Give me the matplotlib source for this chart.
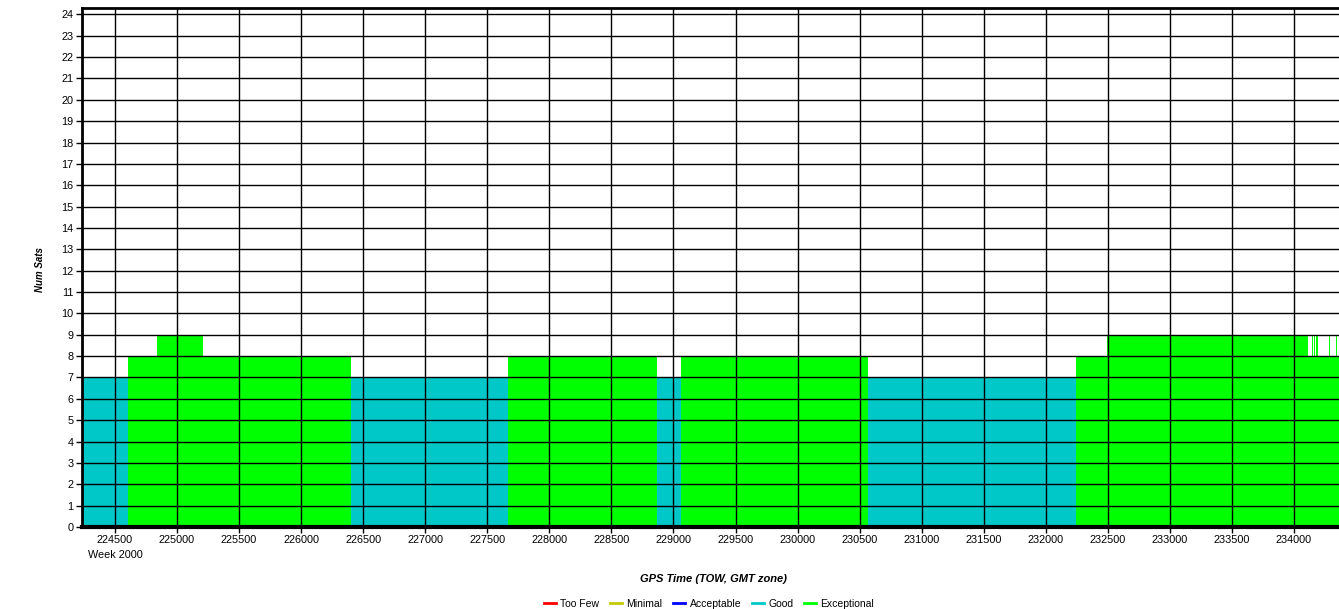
import numpy as np
import matplotlib
matplotlib.use("Agg")
import matplotlib.pyplot as plt
from matplotlib.lines import Line2D

plt.rcParams['font.family'] = ['Liberation Sans', 'DejaVu Sans']

# -----------------------------------
# Data: change points of satellite count (GPS TOW, week 2000)
# -----------------------------------
change_tow = [224234, 224605, 224836, 225211, 226402, 227667, 228870, 229063,
              230568, 232246, 232491, 234113, 234142, 234150, 234160, 234170,
              234180, 234195, 234280, 234292, 234335, 234345]
num_sats = [7, 8, 9, 8, 7, 8, 7, 8,
            7, 8, 9, 8, 9, 8, 9, 8,
            9, 8, 9, 8, 9, 8]
end_tow = 234365

x_min, x_max = 224234, 234363
x_ticks = list(range(224500, 234001, 500))
y_ticks = list(range(0, 25))

quality_names = ["Too Few", "Minimal", "Acceptable", "Good", "Exceptional"]
quality_colors = ["#ff0000", "#c8c800", "#0000ff", "#00c8c8", "#00ff00"]


def quality_of(n):
    if n <= 4:
        return "Too Few"
    if n == 5:
        return "Minimal"
    if n == 6:
        return "Acceptable"
    if n == 7:
        return "Good"
    return "Exceptional"


color_map = dict(zip(quality_names, quality_colors))

# -----------------------------------
# Plot
# -----------------------------------
fig = plt.figure(figsize=(13.39, 6.09), dpi=100)
ax = fig.add_axes([82 / 1339, 1 - 527 / 609, 1 - 82 / 1339, (527 - 8) / 609])

starts = np.array(change_tow)
widths = np.diff(np.append(starts, end_tow))
colors = [color_map[quality_of(n)] for n in num_sats]
ax.bar(starts, num_sats, width=widths, align='edge', color=colors,
       linewidth=0, zorder=1)

ax.set_xlim(x_min, x_max)
ax.set_ylim(0, 24.3)
ax.set_xticks(x_ticks)
ax.set_xticklabels([str(t) for t in x_ticks])
ax.set_yticks(y_ticks)
ax.grid(True, color='black', linewidth=1, zorder=2)
ax.set_axisbelow(False)
ax.tick_params(axis='both', labelsize=7.8, length=4, width=1, color='black', pad=2)

for side in ['left', 'top']:
    ax.spines[side].set_linewidth(2)
ax.spines['bottom'].set_linewidth(3)
ax.spines['right'].set_visible(False)

fig.text(88 / 1339, 1 - 555 / 609, "Week 2000", fontsize=7.8, ha='left', va='center')
fig.text(714 / 1339, 1 - 579 / 609, "GPS Time (TOW, GMT zone)", fontsize=8,
         fontweight='bold', fontstyle='italic', ha='center', va='center')
fig.text(40 / 1339, 1 - 270 / 609, "Num Sats", fontsize=7, fontweight='bold',
         fontstyle='italic', rotation=90, ha='center', va='center')

handles = [Line2D([0], [0], color=c, linewidth=2) for c in quality_colors]
fig.legend(handles, quality_names, loc='center', bbox_to_anchor=(709 / 1339, 1 - 604 / 609),
           ncol=5, frameon=False, fontsize=7.5, handlelength=1.2, handletextpad=0.4,
           columnspacing=1.0)

fig.savefig("out.png", dpi=100)
